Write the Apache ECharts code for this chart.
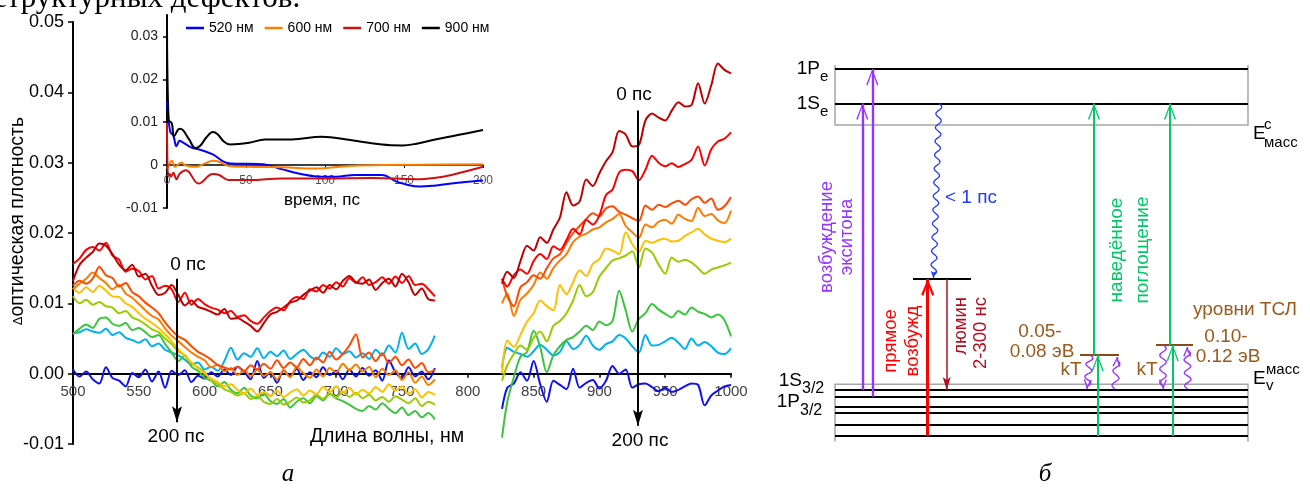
<!DOCTYPE html>
<html><head><meta charset="utf-8">
<script src="https://cdn.jsdelivr.net/npm/echarts/dist/echarts.min.js"></script>
<style>html,body{margin:0;padding:0;background:#fff}#c{width:1310px;height:489px}</style>
</head><body><div id="c"></div><script>
// ---------- main spectra (values in units of 0.001 optical density) ----------
const wlLeft = [500,505,510,515,520,525,530,535,540,545,550,555,560,565,570,575,580,585,590,595,600,605,610,615,620,625,630,635,640,645,650,655,660,665,670,675,680,685,690,695,700,705,710,715,720,725,730,735,740,745,750,755,760,765,770,775];
const wlRight = [826,830,835,840,845,850,855,860,865,870,875,880,885,890,895,900,905,910,915,920,925,930,935,940,945,950,955,960,965,970,975,980,985,990,995,1000];

const darkRedL = [13.2,15.5,16.5,17.3,18.5,18.2,17.0,15.5,14.7,15.5,13.8,14.2,12.5,11.2,11.5,12.6,11.2,9.7,10.4,9.5,9.2,8.8,8.4,9.2,7.8,7.9,7.4,6.8,6.0,7.2,8.4,8.8,9.4,10.1,10.4,11.2,11.8,12.3,11.5,12.6,12.0,13.2,13.9,13.0,12.8,13.4,11.9,12.9,13.5,12.4,14.2,13.0,11.2,12.1,10.6,10.4];
const darkRedR = [12.8,14.5,13.6,16.0,18.2,17.5,19.4,18.6,20.5,22.2,25.8,23.9,24.5,27.6,26.7,28.5,30.2,31.5,34.5,34.0,32.3,32.5,36.0,37.0,36.4,36.0,37.4,38.6,38.0,38.2,41.3,38.4,41.0,44.1,43.2,42.7];
const redL = [15.6,16.4,17.6,18.0,17.5,18.6,16.8,16.2,14.5,14.9,14.6,13.4,13.9,12.1,12.5,12.0,10.2,11.5,9.8,10.6,9.9,9.4,9.1,8.6,8.9,8.1,8.3,7.5,7.1,8.0,8.9,9.4,9.0,10.3,10.9,10.6,12.0,11.7,12.6,12.1,13.0,12.4,13.6,12.9,13.7,12.6,13.0,13.7,12.8,13.8,12.9,13.9,12.6,12.8,12.0,11.0];
const redR = [13.5,12.4,14.0,14.8,14.2,16.0,17.0,16.3,18.1,17.6,19.0,20.6,19.8,21.9,21.2,22.5,25.4,26.2,28.6,29.0,28.8,27.5,29.0,31.0,30.0,29.5,29.9,29.4,29.8,30.4,32.3,29.6,31.9,33.0,33.4,34.3];
const orangeRedL = [12.5,13.2,12.8,13.5,15.2,14.0,13.6,12.4,12.9,11.6,11.0,10.1,9.4,8.6,7.3,6.2,5.3,4.8,3.9,3.1,2.6,2.0,1.2,0.9,0.6,1.0,0.3,1.2,0.6,1.4,0.7,1.9,0.8,1.6,0.9,2.1,1.2,2.3,1.6,3.1,2.0,2.8,4.0,5.6,2.3,3.0,1.8,2.9,1.5,2.4,1.2,2.0,0.8,1.5,0.2,0.5];
const orangeRedR = [13.5,11.0,9.6,12.3,13.0,14.0,13.5,15.0,16.4,17.0,18.6,20.0,21.0,22.0,22.8,22.4,23.5,23.8,23.0,22.6,22.1,21.7,23.9,23.3,24.0,23.7,24.2,24.6,24.0,24.8,25.2,24.3,24.9,23.3,23.8,25.1];
const orangeL = [12.0,12.8,13.5,14.4,13.6,12.9,12.0,12.6,11.4,10.8,9.9,9.0,8.2,7.7,6.4,5.4,4.6,3.8,3.0,2.4,1.9,0.9,1.3,0.3,0.8,-0.2,0.5,-0.4,0.6,-0.3,0.2,-0.8,0.4,-0.5,0.9,0.1,-0.6,0.6,-0.4,0.8,0.2,1.4,0.5,1.3,0.3,1.0,-0.5,0.7,-0.2,0.5,-0.9,0.2,-1.3,-0.4,-1.6,-0.8];
const orangeR = [10.0,11.4,8.2,10.5,11.4,12.6,14.4,13.5,15.0,16.1,17.0,18.7,19.5,19.9,20.5,20.8,21.5,22.0,22.7,21.0,20.1,19.3,21.2,20.8,21.6,21.9,21.3,22.6,22.0,21.7,23.6,22.4,22.7,21.8,21.4,23.2];
const yellowL = [12.2,11.5,12.3,11.6,12.5,11.8,11.0,10.9,10.0,9.5,8.6,7.8,7.2,6.5,5.6,4.6,3.5,2.5,1.6,0.8,0.0,-0.7,-1.2,-1.8,-1.5,-2.3,-2.8,-2.1,-3.0,-2.6,-3.2,-2.4,-3.3,-2.7,-2.2,-3.1,-2.4,-2.9,-1.9,-2.6,-1.8,-2.7,-2.0,-3.0,-2.3,-2.8,-1.9,-2.6,-1.5,-2.4,-1.8,-2.9,-2.2,-3.4,-2.6,-3.0];
const yellowR = [0.0,4.7,3.8,5.5,7.4,8.6,10.4,9.6,9.0,12.6,11.3,13.0,14.7,13.9,15.6,16.3,17.8,17.5,17.0,20.1,18.4,17.3,18.9,18.6,19.0,19.2,18.8,18.9,19.6,20.1,20.6,19.8,19.2,18.9,18.7,19.2];
const yellowGreenL = [11.0,10.0,10.5,9.8,10.2,9.6,9.4,8.6,8.9,8.0,7.6,7.0,6.3,5.9,5.0,4.2,3.2,2.6,1.5,0.9,0.2,-0.9,-1.5,-2.2,-2.6,-3.1,-2.8,-3.6,-3.2,-4.0,-4.3,-3.6,-4.4,-4.0,-3.4,-4.1,-3.8,-3.0,-3.6,-2.8,-3.4,-2.6,-3.3,-2.7,-3.5,-3.0,-3.8,-3.3,-4.0,-3.2,-3.7,-4.2,-3.5,-4.6,-4.0,-4.4];
const yellowGreenR = [-1.0,1.2,2.8,4.0,3.4,5.1,6.0,4.6,6.8,7.5,8.6,10.4,12.6,11.0,11.6,13.8,15.0,16.1,16.4,16.8,17.4,15.1,17.8,17.2,15.5,14.2,16.5,15.9,16.2,15.8,15.0,14.2,14.8,15.1,15.4,15.8];
const greenL = [5.6,6.4,7.0,6.5,7.8,8.0,7.1,6.8,7.2,6.2,6.5,5.9,5.2,5.5,4.2,3.0,1.8,2.6,1.0,0.4,-0.6,-1.0,-1.8,-1.2,-2.3,-2.8,-2.0,-3.1,-3.5,-2.9,-3.9,-4.3,-3.6,-4.8,-4.0,-3.5,-4.2,-3.2,-3.8,-2.9,-3.5,-3.9,-4.4,-5.0,-5.3,-4.6,-5.1,-4.2,-5.0,-5.6,-4.8,-5.9,-5.3,-6.2,-5.6,-6.5];
const greenR = [-9.1,-4.0,-0.5,2.4,3.1,6.1,3.8,0.2,2.6,3.9,4.8,5.2,6.0,6.8,6.2,7.4,6.9,7.5,11.8,9.0,6.0,7.8,8.6,9.9,9.1,8.5,8.0,8.9,8.4,9.4,8.8,8.5,8.0,8.4,7.6,5.3];
const lightBlueL = [5.8,5.9,6.3,6.0,5.8,6.4,5.5,5.9,5.1,4.8,4.4,4.9,3.9,4.3,3.4,3.0,2.6,2.0,1.3,1.6,0.6,1.0,0.4,1.8,3.7,2.0,2.9,2.4,3.6,2.2,3.1,2.5,3.3,2.1,2.8,3.4,2.5,2.0,3.0,2.4,3.6,2.8,3.2,2.3,2.9,2.1,3.4,2.6,4.0,3.0,5.8,3.5,4.3,2.8,3.5,5.4];
const lightBlueR = [0.9,3.7,3.1,2.8,2.4,3.2,4.1,3.4,2.6,3.1,4.6,3.5,4.1,5.4,4.0,3.4,4.2,4.6,5.5,5.0,3.9,3.0,5.5,4.0,4.1,4.6,5.1,4.4,3.5,5.0,4.0,4.5,3.9,3.0,2.8,3.6];
const blueL = [0.6,-0.4,0.3,-0.8,-1.4,0.9,-0.6,-1.0,-1.8,0.1,-0.5,0.6,-1.1,0.3,-2.0,0.4,-0.2,0.5,-1.2,-0.3,-0.7,0.2,-0.4,0.6,-0.2,1.0,0.3,-0.8,1.8,-0.6,0.2,-1.3,0.5,-0.4,0.7,-0.9,0.2,-0.5,0.9,-0.2,0.4,-0.8,0.6,-0.4,0.8,-0.3,0.5,-1.0,1.9,0.2,-0.6,0.9,-0.4,0.3,-0.8,0.8];
const blueR = [-5.0,-2.0,-1.4,0.2,-1.0,1.8,-1.5,-4.0,-1.0,-1.6,-2.2,0.7,-2.0,-1.3,-0.9,-2.1,-1.0,1.1,0.0,0.6,-2.0,-1.5,-1.4,-1.9,-2.5,-2.0,-2.6,-2.3,-1.8,-1.4,-1.6,-4.5,-3.1,-2.4,-1.8,-1.6];

// ---------- inset kinetics ----------
const t520 = [0,2,4,6,8,10,16,20,29,37,44,52,61,73,84,98,107,119,136,145,152,160,169,180,200];
const v520 = [0.015,0.0078,0.0069,0.0044,0.0057,0.0053,0.004,0.0037,0.0025,0.0006,0.0003,0.0003,0.0002,-0.001,-0.002,-0.0027,-0.0027,-0.0023,-0.0023,-0.0038,-0.0046,-0.005,-0.0048,-0.0043,-0.0036];
const t600 = [0,1,3,5,9,12,18,24,29,33,39,52,73,94,115,136,158,200];
const v600 = [-0.0008,0.0,0.001,-0.0004,0.0006,-0.0001,-0.0004,0.0004,0.001,0.0008,-0.0002,-0.0004,-0.0005,-0.0008,-0.0002,0.0,0.0001,0.0002];
const t700 = [0,0.7,1.5,2.5,4,6,8,12,20,29,33,39,52,73,100,130,158,169,180,200];
const v700 = [0.0098,-0.0025,-0.002,-0.0027,-0.0018,-0.0033,-0.002,-0.0012,-0.0043,-0.0021,-0.0023,-0.0035,-0.0035,-0.0031,-0.0031,-0.003,-0.0033,-0.003,-0.0023,-0.0004];
const t900 = [0,1,3,4.5,8,10,14,18,21,25,29,32,36,40,52,62,79,98,115,136,149,158,169,184,200];
const v900 = [0.035,0.0105,0.0098,0.0068,0.0085,0.0082,0.006,0.004,0.0045,0.0065,0.0077,0.0072,0.0055,0.0048,0.0052,0.006,0.006,0.0066,0.0059,0.0048,0.0046,0.005,0.0059,0.007,0.0082];

// ---------- scheme (diagram units) ----------
const cbLevels = [420, 385.5];            // 1Pe, 1Se
const vbLevels = [99, 92.3, 82.3, 76.7, 64.5, 53];
const levelSpan = [75, 488];
const cbBox = [364, 424];
const vbBox = [47.5, 104.7];
const trapLevel = {E:210, x:[153,211]};
const tslLevels = [{E:134, x:[320,359]}, {E:144, x:[396,433]}];

const FONT = '"Liberation Sans", Arial, sans-serif';
const C = {purple:'#9533ff', red:'#ff0000', lum:'#b01020', blue:'#2038ff', green:'#00c864', brown:'#9a5a1c'};

// arrow-head glyphs: tip at (0,0) pointing "up", padded to a square box centred on the tip
function head(p, h){ return 'path://' + p + ' M' + (-h) + ',' + (-h) + ' M' + h + ',' + h; }
const VHEAD = head('M0,0 L6,15.5 L4.8,16.5 L0,3 L-4.8,16.5 L-6,15.5 Z', 16.5);
const VHEAD_RED = head('M0,0 L6.5,15.5 L4.5,17 L0,4.5 L-4.5,17 L-6.5,15.5 Z', 17);
const SMALLV = head('M0,0 L4,9 L2.8,9.8 L0,3 L-2.8,9.8 L-4,9 Z', 9.8);
const LUMHEAD = head('M0,0 L4,13 L0,10 L-4,13 Z', 13);
const TINY = head('M0,0 L3,7 L0,5.5 L-3,7 Z', 7);
const MAINHEAD = head('M0,0 L5,16 L0,12.5 L-5,16 Z', 16);

const arrows = [
  {from:[102.3,99], to:[102.3,385.5], color:C.purple, width:2.4, head:VHEAD, size:33},
  {from:[112.3,92.3], to:[112.3,420], color:C.purple, width:2.4, head:VHEAD, size:33},
  {from:[167.7,53], to:[167.7,210], color:C.red, width:3, head:VHEAD_RED, size:34},
  {from:[186.7,210], to:[186.7,99], color:C.lum, width:1.5, head:LUMHEAD, size:26},
  {from:[334,134], to:[334,385.5], color:C.green, width:2, head:VHEAD, size:33},
  {from:[337.7,53], to:[337.7,134], color:C.green, width:2, head:VHEAD, size:33},
  {from:[410,144], to:[410,385.5], color:C.green, width:2, head:VHEAD, size:33},
  {from:[412.7,53], to:[412.7,144], color:C.green, width:2, head:VHEAD, size:33}
];
const waves = [
  {from:[179,385.5], to:[173.5,211], amp:2.8, period:13.5, color:C.blue, width:1.3, head:TINY, size:14},
  {from:[330,134], to:[327,100], amp:3.2, period:13, color:C.purple, width:1.4, head:SMALLV, size:19.6},
  {from:[355,100], to:[357,132], amp:3.2, period:13, color:C.purple, width:1.4, head:SMALLV, size:19.6},
  {from:[403,144], to:[403,100], amp:3.2, period:13, color:C.purple, width:1.4, head:SMALLV, size:19.6},
  {from:[428,100], to:[427,142], amp:3.2, period:13, color:C.purple, width:1.4, head:SMALLV, size:19.6}
];

// ---------- build ----------
function specData(L, R){
  const d = [];
  wlLeft.forEach((w,i)=>d.push([w, L[i]/1000]));
  d.push([800,'-']);
  wlRight.forEach((w,i)=>d.push([w, R[i]/1000]));
  return d;
}
const spectra = [
  ['s9','#1010f0',blueL,blueR],
  ['s8','#00b0f0',lightBlueL,lightBlueR],
  ['s7','#3cc43c',greenL,greenR],
  ['s6','#99cc00',yellowGreenL,yellowGreenR],
  ['s5','#ffc000',yellowL,yellowR],
  ['s4','#ff7c00',orangeL,orangeR],
  ['s3','#ff4a00',orangeRedL,orangeRedR],
  ['s2','#ff0000',redL,redR],
  ['s1','#c00000',darkRedL,darkRedR]
];
const series = [];
spectra.forEach(([n,c,L,R])=>{
  series.push({type:'line', name:n, xAxisIndex:0, yAxisIndex:0, data:specData(L,R),
    showSymbol:false, symbol:'none', smooth:0.3, connectNulls:false,
    lineStyle:{color:c, width:2}, itemStyle:{color:c}, silent:true});
});
series[series.length-1].markLine = {
  silent:true, symbol:['none', MAINHEAD], symbolSize:32, label:{show:false},
  lineStyle:{color:'#000', width:2, type:'solid'},
  data:[[{coord:[579,0.0135]},{coord:[579,-0.0069]}],[{coord:[929.3,0.0374]},{coord:[929.3,-0.0074]}]]
};
function pairs(t,v){return t.map((x,i)=>[x,v[i]]);}
[['520 нм','#0000ff',t520,v520],['600 нм','#ff7f00',t600,v600],['700 нм','#d01010',t700,v700],['900 нм','#000000',t900,v900]]
.forEach(([n,c,t,v])=>{
  series.push({type:'line', name:n, xAxisIndex:1, yAxisIndex:1, data:pairs(t,v), showSymbol:false, symbol:'none',
    smooth:0.4, lineStyle:{color:c, width:2}, itemStyle:{color:c}, silent:true});
});

// scheme drawing through hidden cartesian grid
function seg(coords, color, width, extra){
  return Object.assign({type:'lines', coordinateSystem:'cartesian2d', xAxisIndex:2, yAxisIndex:2, silent:true,
    symbol:'none', lineStyle:{color:color, width:width, opacity:1, curveness:0}, data:[{coords:coords}], z:3}, extra||{});
}
series.push(seg([[levelSpan[0],cbBox[1]],[levelSpan[0],cbBox[0]],[levelSpan[1],cbBox[0]],[levelSpan[1],cbBox[1]]],'#a6a6a6',1.5,{polyline:true}));
series.push(seg([[levelSpan[0],vbBox[0]],[levelSpan[0],vbBox[1]],[levelSpan[1],vbBox[1]],[levelSpan[1],vbBox[0]]],'#a6a6a6',1.5,{polyline:true}));
cbLevels.concat(vbLevels).forEach(E=>series.push(seg([[levelSpan[0],E],[levelSpan[1],E]],'#000',2)));
series.push(seg([[trapLevel.x[0],trapLevel.E],[trapLevel.x[1],trapLevel.E]],'#000',2));
tslLevels.forEach(l=>series.push(seg([[l.x[0],l.E],[l.x[1],l.E]],'#8b4b17',2)));
arrows.forEach(a=>series.push(seg([a.from,a.to],a.color,a.width,{symbol:['none',a.head],symbolSize:a.size,z:4})));
waves.forEach(w=>{
  const dx=w.to[0]-w.from[0], dy=w.to[1]-w.from[1], len=Math.hypot(dx,dy);
  const ux=dx/len, uy=dy/len, px=-uy, py=ux, tail=3, wl=len-tail;
  const half=Math.max(1,Math.round(2*wl/w.period)), n=Math.ceil(wl*2), pts=[];
  for(let i=0;i<=n;i++){const s=wl*i/n, o=w.amp*Math.sin(Math.PI*half*s/wl); pts.push([w.from[0]+ux*s+px*o, w.from[1]+uy*s+py*o]);}
  series.push(seg(pts,w.color,w.width,{polyline:true,z:4}));
  series.push(seg([pts[pts.length-1],w.to],w.color,w.width,{symbol:['none',w.head],symbolSize:w.size,z:4}));
});

// ---------- texts ----------
function T(x,y,text,o){
  o=o||{};
  return {type:'text', x:x, y:y, rotation:o.rot||0, silent:true, z:10,
    style:{text:text, fill:o.color||'#000', font:o.font||('19px '+FONT), align:o.align||'center',
      verticalAlign:'middle', lineHeight:o.lh, rich:o.rich}};
}
const f = s => s+'px '+FONT;
const graphic = [
  T(-7,-1,'структурных дефектов.',{align:'left',font:'31px "Liberation Serif", serif'}),
  T(18,221,'{d|Δ}{t|оптическая плотность}',{rot:Math.PI/2,rich:{d:{font:f(13)},t:{font:f(19.5)}}}),
  T(387,437,'Длина волны, нм',{font:f(19.5)}),
  T(188,265,'0 пс'), T(176,437,'200 пс'), T(634,95,'0 пс'), T(640,441,'200 пс'),
  T(322,200,'время, пс',{font:f(17)}),
  T(288,474,'а',{font:'italic 25px "Liberation Serif", serif'}),
  T(1045,474,'б',{font:'italic 25px "Liberation Serif", serif'}),
  // scheme labels
  T(820,69,'1P',{align:'right'}), T(820,77,'e',{align:'left',font:f(15)}),
  T(820,104,'1S',{align:'right'}), T(820,112,'e',{align:'left',font:f(15)}),
  T(802,381,'1S',{align:'right'}), T(802,389,'3/2',{align:'left',font:f(16)}),
  T(800,402,'1P',{align:'right'}), T(800,411,'3/2',{align:'left',font:f(16)}),
  T(1253,134,'E',{align:'left'}), T(1264,125,'c',{align:'left',font:f(15)}), T(1264,143,'масс',{align:'left',font:f(15)}),
  T(1253,379,'E',{align:'left'}), T(1266,370,'масс',{align:'left',font:f(15)}), T(1266,386,'v',{align:'left',font:f(15)}),
  T(837,237,'возбуждение\nэкситона',{rot:Math.PI/2,color:C.purple,font:f(18.5),lh:20}),
  T(902,341,'прямое\nвозбужд',{rot:Math.PI/2,color:C.red,font:f(18.5),lh:22}),
  T(971,297,'люмин\n2-300 нс',{rot:Math.PI/2,color:C.lum,font:f(18.5),lh:20,align:'right'}),
  T(945,198,'< 1 пс',{align:'left',color:C.blue}),
  T(1130,250,'наведённое\nпоглощение',{rot:Math.PI/2,color:C.green,font:f(19),lh:26}),
  T(1040,332,'0.05-',{color:C.brown}), T(1042,352,'0.08 эВ',{color:C.brown}),
  T(1071,370,'kT',{color:C.brown}), T(1147,370,'kT',{color:C.brown}),
  T(1226,337,'0.10-',{color:C.brown}), T(1228,357,'0.12 эВ',{color:C.brown}),
  T(1245,310,'уровни ТСЛ',{color:C.brown})
];

const chart = echarts.init(document.getElementById('c'));
chart.setOption({
  animation:false,
  backgroundColor:'#fff',
  textStyle:{fontFamily:FONT},
  grid:[
    {left:73, top:22, width:658, height:422, outerBoundsMode:'none', containLabel:false},
    {left:167, top:15, width:316, height:193, outerBoundsMode:'none', containLabel:false},
    {left:760, top:0, width:550, height:489, outerBoundsMode:'none', containLabel:false}
  ],
  xAxis:[
    {gridIndex:0, type:'value', min:500, max:1000, interval:50, position:'bottom', offset:-422*0.01/0.06,
     axisLine:{show:true, onZero:false, lineStyle:{color:'#000', width:2}},
     axisTick:{show:true, length:4, lineStyle:{color:'#000', width:1.5}},
     axisLabel:{fontSize:15, color:'#404040', margin:11, fontFamily:FONT, formatter:v=>String(v)}, splitLine:{show:false}},
    {gridIndex:1, type:'value', min:0, max:200, interval:50, position:'bottom', offset:-193*0.01/0.045,
     axisLine:{show:true, onZero:false, lineStyle:{color:'#000', width:1.5}},
     axisTick:{show:true, length:3, lineStyle:{color:'#000', width:1}},
     axisLabel:{fontSize:12, color:'#505050', margin:10, fontFamily:FONT, formatter:v=>String(v)}, splitLine:{show:false}},
    {gridIndex:2, type:'value', min:0, max:550, show:false}
  ],
  yAxis:[
    {gridIndex:0, type:'value', min:-0.01, max:0.05, interval:0.01,
     axisLine:{show:true, onZero:false, lineStyle:{color:'#000', width:2}},
     axisTick:{show:true, length:5, lineStyle:{color:'#000', width:1.5}},
     axisLabel:{fontSize:18, color:'#000', margin:9, fontFamily:FONT, formatter:v=>v.toFixed(2)}, splitLine:{show:false}},
    {gridIndex:1, type:'value', min:-0.01, max:0.035, interval:0.01,
     axisLine:{show:true, onZero:false, lineStyle:{color:'#000', width:2}},
     axisTick:{show:true, length:4, lineStyle:{color:'#000', width:1.5}},
     axisLabel:{fontSize:14, color:'#222', margin:9, fontFamily:FONT, showMaxLabel:false,
       formatter:v=>Math.abs(v)<1e-9?'0':v.toFixed(2)}, splitLine:{show:false}},
    {gridIndex:2, type:'value', min:0, max:489, show:false}
  ],
  legend:{data:['520 нм','600 нм','700 нм','900 нм'], left:186, top:21, itemGap:11, itemWidth:18, itemHeight:2.5,
    icon:'rect', padding:0, textStyle:{fontSize:14, color:'#000', fontFamily:FONT}, selectedMode:false},
  series:series,
  graphic:graphic
});
</script></body></html>
